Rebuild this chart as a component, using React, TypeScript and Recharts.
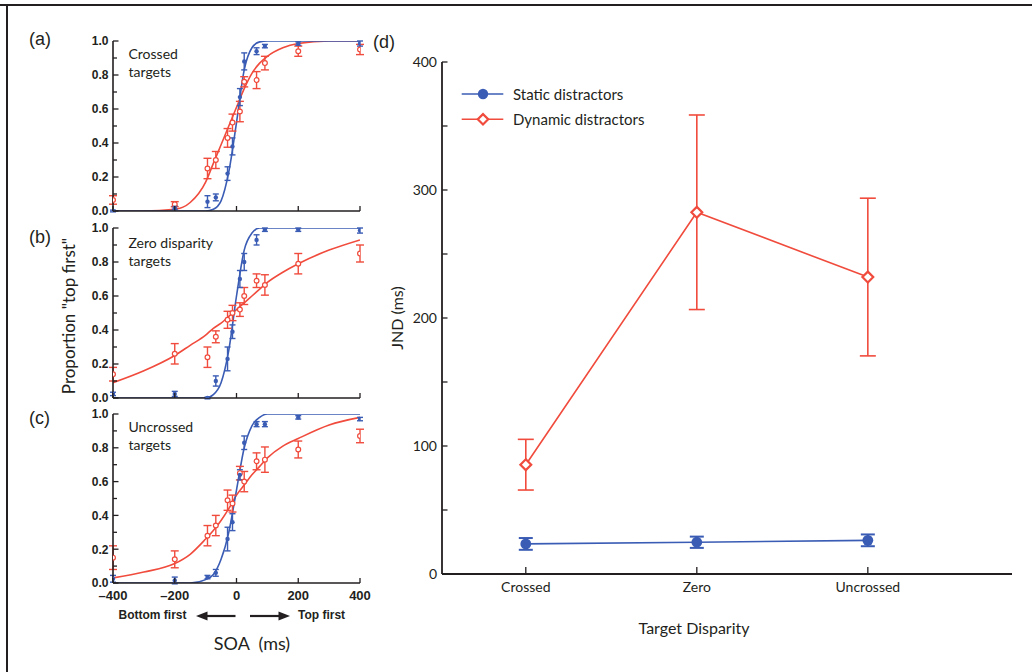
import React from 'react'
import { ComposedChart, Line, Scatter, XAxis, YAxis, ErrorBar } from 'recharts'

const INK = '#231f20'
const BLUE = '#3a5cb4'
const RED = '#f04b3c'

// SOA (ms) of the measured points, same for panels a-c
const soaPoints = [-400, -200, -94, -67, -29, -13, 11, 25, 65, 92, 200, 400]
// SOA (ms) where the fitted curves are read
const soaFit = [-400, -300, -200, -150, -100, -75, -50, -25, 0, 25, 50, 75, 100, 150, 200, 300, 400]

// (a) crossed targets
const crossedStatic = [0.0, 0.02, 0.055, 0.08, 0.22, 0.38, 0.67, 0.88, 0.94, 0.97, 0.985, 0.985]
const crossedStaticErr = [0.005, 0.01, 0.035, 0.02, 0.04, 0.05, 0.05, 0.05, 0.02, 0.01, 0.01, 0.015]
const crossedDynamic = [0.065, 0.04, 0.25, 0.3, 0.43, 0.52, 0.585, 0.76, 0.77, 0.87, 0.94, 0.95]
const crossedDynamicErr = [0.025, 0.015, 0.06, 0.05, 0.055, 0.05, 0.06, 0.03, 0.05, 0.04, 0.03, 0.03]
const crossedStaticFit = [0, 0, 0, 0, 0, 0.01, 0.06, 0.23, 0.52, 0.83, 0.96, 0.995, 1, 1, 1, 1, 1]
const crossedDynamicFit = [0, 0, 0.01, 0.05, 0.17, 0.28, 0.39, 0.5, 0.61, 0.72, 0.81, 0.87, 0.91, 0.96, 0.985, 1, 1]

// (b) zero disparity targets
const zeroStatic = [0.024, 0.024, 0.0, 0.1, 0.23, 0.39, 0.7, 0.8, 0.93, 0.99, 0.99, 0.985]
const zeroStaticErr = [0.01, 0.015, 0.005, 0.03, 0.07, 0.04, 0.05, 0.05, 0.03, 0.01, 0.01, 0.015]
const zeroDynamic = [0.14, 0.26, 0.24, 0.36, 0.46, 0.5, 0.52, 0.6, 0.69, 0.665, 0.79, 0.85]
const zeroDynamicErr = [0.04, 0.06, 0.06, 0.035, 0.05, 0.045, 0.04, 0.05, 0.04, 0.06, 0.06, 0.05]
const zeroStaticFit = [0, 0, 0, 0, 0, 0.02, 0.09, 0.28, 0.6, 0.87, 0.97, 1, 1, 1, 1, 1, 1]
const zeroDynamicFit = [0.09, 0.16, 0.25, 0.31, 0.37, 0.41, 0.44, 0.48, 0.52, 0.56, 0.6, 0.64, 0.68, 0.74, 0.79, 0.87, 0.93]

// (c) uncrossed targets
const uncrossedStatic = [0.025, 0.015, 0.035, 0.06, 0.26, 0.36, 0.64, 0.83, 0.94, 0.94, 0.98, 0.97]
const uncrossedStaticErr = [0.02, 0.02, 0.01, 0.02, 0.07, 0.05, 0.03, 0.04, 0.015, 0.015, 0.01, 0.01]
const uncrossedDynamic = [0.15, 0.14, 0.28, 0.34, 0.49, 0.47, 0.65, 0.6, 0.72, 0.73, 0.79, 0.87]
const uncrossedDynamicErr = [0.07, 0.05, 0.06, 0.06, 0.06, 0.05, 0.04, 0.06, 0.05, 0.075, 0.05, 0.04]
const uncrossedStaticFit = [0, 0, 0, 0, 0.02, 0.05, 0.14, 0.3, 0.55, 0.8, 0.93, 0.98, 1, 1, 1, 1, 1]
const uncrossedDynamicFit = [0.03, 0.065, 0.115, 0.17, 0.26, 0.31, 0.37, 0.44, 0.52, 0.58, 0.64, 0.69, 0.74, 0.81, 0.855, 0.935, 0.98]

const soaTicks = [-400, -200, 0, 200, 400]
const soaTopTicks = [-200, 0, 200]
const propTicks = [0, 0.1, 0.2, 0.3, 0.4, 0.5, 0.6, 0.7, 0.8, 0.9, 1]

// (d) JND per target disparity
const disparities = ['Crossed', 'Zero', 'Uncrossed']
const jndStatic = [23.5, 24.8, 26.3]
const jndStaticErr = [4.6, 4.4, 4.6]
const jndDynamic = [85.4, 282.6, 232]
const jndDynamicErr = [19.8, 76, 61.6]
const jndTicks = [0, 50, 100, 150, 200, 250, 300, 350, 400]
const jndTopTicks = [1.08, 2.18, 3.29]

const pts = (ys: number[], errs: number[]) => soaPoints.map((soa, i) => ({ soa, p: ys[i], e: errs[i] }))
const fit = (ys: number[]) => soaFit.map((soa, i) => ({ soa, p: ys[i] }))

const panels = [
  {
    id: 'a', top: 33, plotH: 170, title: ['Crossed', 'targets'], titleTop: 45, letterTop: 30,
    sPts: pts(crossedStatic, crossedStaticErr), dPts: pts(crossedDynamic, crossedDynamicErr),
    sFit: fit(crossedStaticFit), dFit: fit(crossedDynamicFit),
  },
  {
    id: 'b', top: 220, plotH: 170, title: ['Zero disparity', 'targets'], titleTop: 234, letterTop: 228,
    sPts: pts(zeroStatic, zeroStaticErr), dPts: pts(zeroDynamic, zeroDynamicErr),
    sFit: fit(zeroStaticFit), dFit: fit(zeroDynamicFit),
  },
  {
    id: 'c', top: 406, plotH: 169, title: ['Uncrossed', 'targets'], titleTop: 418, letterTop: 409,
    sPts: pts(uncrossedStatic, uncrossedStaticErr), dPts: pts(uncrossedDynamic, uncrossedDynamicErr),
    sFit: fit(uncrossedStaticFit), dFit: fit(uncrossedDynamicFit),
  },
]

const dTable = disparities.map((name, i) => ({
  x: i + 1, name,
  stat: jndStatic[i], statErr: jndStaticErr[i],
  dyn: jndDynamic[i], dynErr: jndDynamicErr[i],
}))

const smallFont = { fontFamily: '"Liberation Sans", Arial, sans-serif', fontWeight: 700, fill: INK }
const bigFont = { fontFamily: 'Lato, sans-serif', fontSize: 14, fill: INK }

// inward tick marks (the reference draws them inside the frame)
const leftTick = (gap: number, len: (v: number) => number, label: (v: number) => string, style: any) => (props: any) => {
  const { x, y, payload } = props
  const v = payload.value
  const ax = x + gap
  const t = label(v)
  return (
    <g>
      <line x1={ax} y1={y} x2={ax + len(v)} y2={y} stroke={INK} strokeWidth={1.3} />
      {t && <text x={x} y={y} dy="0.36em" textAnchor="end" style={style}>{t}</text>}
    </g>
  )
}
const rightTick = (gap: number, len: number) => (props: any) => {
  const { x, y } = props
  const ax = x - gap
  return <line x1={ax} y1={y} x2={ax - len} y2={y} stroke={INK} strokeWidth={1.3} />
}
const topTick = (gap: number, len: number) => (props: any) => {
  const { x, y } = props
  const ay = y + gap
  return <line x1={x} y1={ay} x2={x} y2={ay + len} stroke={INK} strokeWidth={1.3} />
}
const bottomTick = (gap: number, len: number, label: (v: number) => string, base: number, style: any) => (props: any) => {
  const { x, y, payload } = props
  const ay = y - gap
  const t = label(payload.value)
  return (
    <g>
      <line x1={x} y1={ay} x2={x} y2={ay - len} stroke={INK} strokeWidth={1.3} />
      {t && <text x={x} y={ay + base} textAnchor="middle" style={style}>{t}</text>}
    </g>
  )
}

const fmtProp = (v: number) => (Math.round(v * 10) % 2 === 0 ? v.toFixed(1) : '')
const fmtSoa = (v: number) => (v < 0 ? '\u2013' + Math.abs(v) : String(v))

function SmallPanel({ panel, last }: { panel: typeof panels[number]; last: boolean }) {
  const h = 8 + panel.plotH + 22 + 2
  return (
    <div style={{ position: 'absolute', left: 63, top: panel.top, width: 320, height: h }}>
      <ComposedChart width={320} height={h} margin={{ top: 8, right: 23, bottom: 2, left: 0 }}>
        <XAxis type="number" dataKey="soa" domain={[-400, 400]} allowDataOverflow ticks={soaTicks} interval={0}
          height={22} tickSize={0} tickMargin={2} tickLine={false} axisLine={{ stroke: INK, strokeWidth: 1.6 }}
          tick={bottomTick(2, 5, (v) => (last ? fmtSoa(v) : ''), 17, { ...smallFont, fontSize: 13 })} />
        <XAxis xAxisId="top" orientation="top" type="number" dataKey="soa" domain={[-400, 400]} allowDataOverflow
          ticks={soaTopTicks} interval={0} height={0} tickSize={0} tickMargin={0} tickLine={false}
          axisLine={{ stroke: INK, strokeWidth: 1.6 }} tick={topTick(0, 5)} />
        <YAxis type="number" domain={[0, 1]} allowDataOverflow ticks={propTicks} interval={0} width={50}
          tickSize={0} tickMargin={4.5} tickLine={false} axisLine={{ stroke: INK, strokeWidth: 1.6 }}
          tick={leftTick(4.5, (v) => (Math.round(v * 10) % 2 === 0 ? 5.5 : 4), fmtProp, { ...smallFont, fontSize: 12 })} />
        <YAxis yAxisId="right" orientation="right" type="number" domain={[0, 1]} allowDataOverflow ticks={propTicks}
          interval={0} width={0} tickSize={0} tickMargin={0} tickLine={false}
          axisLine={{ stroke: INK, strokeWidth: 1.6 }} tick={rightTick(0, 5)} />
        <Line data={panel.dFit} dataKey="p" type="monotone" stroke={RED} strokeWidth={1.6} dot={false}
          isAnimationActive={false} />
        <Line data={panel.sFit} dataKey="p" type="monotone" stroke={BLUE} strokeWidth={1.6} dot={false}
          isAnimationActive={false} />
        <Scatter data={panel.dPts} dataKey="p" isAnimationActive={false}
          shape={(p: any) => <circle cx={p.cx} cy={p.cy} r={2.4} fill="#fff" stroke={RED} strokeWidth={1.2} />}>
          <ErrorBar dataKey="e" direction="y" width={4} stroke={RED} strokeWidth={1.4} />
        </Scatter>
        <Scatter data={panel.sPts} dataKey="p" isAnimationActive={false}
          shape={(p: any) => <circle cx={p.cx} cy={p.cy} r={2.2} fill={BLUE} />}>
          <ErrorBar dataKey="e" direction="y" width={3} stroke={BLUE} strokeWidth={1.4} />
        </Scatter>
      </ComposedChart>
    </div>
  )
}

const diamond = (cx: number, cy: number, r: number) => `M${cx},${cy - r}L${cx + r},${cy}L${cx},${cy + r}L${cx - r},${cy}Z`

function PanelD() {
  return (
    <div style={{ position: 'absolute', left: 392, top: 52, width: 630, height: 554 }}>
      <ComposedChart width={630} height={554} data={dTable} margin={{ top: 10, right: 10, bottom: 2, left: 0 }}>
        <XAxis type="number" dataKey="x" domain={[0.51, 3.843]} allowDataOverflow ticks={[1, 2, 3]} interval={0}
          height={30} tickSize={0} tickMargin={0} tickLine={false} axisLine={{ stroke: INK, strokeWidth: 1.8 }}
          tick={bottomTick(0, 7, (v) => disparities[v - 1] ?? '', 17.6, bigFont)} />
        <XAxis xAxisId="top" orientation="top" type="number" dataKey="x" domain={[0.51, 3.843]} allowDataOverflow
          ticks={jndTopTicks} interval={0} height={0} tickSize={0} tickMargin={0} tickLine={false}
          axisLine={{ stroke: INK, strokeWidth: 1.8 }} tick={topTick(0, 6.5)} />
        <YAxis type="number" domain={[0, 400]} allowDataOverflow ticks={jndTicks} interval={0} width={50}
          tickSize={0} tickMargin={5} tickLine={false} axisLine={{ stroke: INK, strokeWidth: 1.8 }}
          tick={leftTick(5, () => 5.5, (v) => (v % 100 === 0 ? String(v) : ''), bigFont)} />
        <YAxis yAxisId="right" orientation="right" type="number" domain={[0, 400]} allowDataOverflow ticks={jndTicks}
          interval={0} width={0} tickSize={0} tickMargin={0} tickLine={false}
          axisLine={{ stroke: INK, strokeWidth: 1.8 }} tick={rightTick(0, 6.5)} />
        <Line dataKey="dyn" stroke={RED} strokeWidth={1.6} isAnimationActive={false}
          dot={(p: any) => <path key={`dd${p.index}`} d={diamond(p.cx, p.cy, 5.4)} fill="#fff" stroke={RED} strokeWidth={2.2} />}>
          <ErrorBar dataKey="dynErr" direction="y" width={8} stroke={RED} strokeWidth={1.6} />
        </Line>
        <Line dataKey="stat" stroke={BLUE} strokeWidth={1.6} isAnimationActive={false}
          dot={(p: any) => <circle key={`sd${p.index}`} cx={p.cx} cy={p.cy} r={5.4} fill={BLUE} />}>
          <ErrorBar dataKey="statErr" direction="y" width={7} stroke={BLUE} strokeWidth={2} />
        </Line>
      </ComposedChart>
    </div>
  )
}

const abs = (left: number, top: number, extra: React.CSSProperties = {}): React.CSSProperties => ({
  position: 'absolute', left, top, whiteSpace: 'pre', lineHeight: 1, color: INK, ...extra,
})

export default function App() {
  const sans = '"Liberation Sans", Arial, sans-serif'
  const lato = 'Lato, sans-serif'
  return (
    <div style={{ position: 'absolute', left: 0, top: 0, width: 1032, height: 672, background: '#fff', overflow: 'hidden' }}>
      <div style={{ position: 'absolute', left: 0, top: 4, width: 1032, height: 2, background: INK }} />
      <div style={{ position: 'absolute', left: 6, top: 4, width: 2, height: 668, background: INK }} />

      {panels.map((p, i) => (
        <React.Fragment key={p.id}>
          <SmallPanel panel={p} last={i === panels.length - 1} />
          <div style={abs(29, p.letterTop, { fontFamily: sans, fontSize: 18 })}>({p.id})</div>
          <div style={abs(128.5, p.titleTop, { fontFamily: lato, fontSize: 14, lineHeight: '18px' })}>
            {p.title[0]}<br />{p.title[1]}
          </div>
        </React.Fragment>
      ))}

      <div style={abs(68, 316, { fontFamily: lato, fontSize: 17, transform: 'translate(-50%, -50%) rotate(-90deg)' })}>
        Proportion "top first"
      </div>

      <div style={abs(118.5, 609, { fontFamily: sans, fontSize: 12, fontWeight: 700 })}>Bottom first</div>
      <div style={abs(298, 609, { fontFamily: sans, fontSize: 12, fontWeight: 700 })}>Top first</div>
      <svg style={{ position: 'absolute', left: 0, top: 0 }} width={400} height={672}>
        <line x1={205} y1={616} x2={235.5} y2={616} stroke={INK} strokeWidth={2.2} />
        <polygon points="196,616 207.5,611.5 207.5,620.5" fill={INK} />
        <line x1={250} y1={616} x2={281} y2={616} stroke={INK} strokeWidth={2.2} />
        <polygon points="290,616 278.5,611.5 278.5,620.5" fill={INK} />
      </svg>
      <div style={abs(252, 643, { fontFamily: lato, fontSize: 18, transform: 'translate(-50%, -50%)' })}>SOA  (ms)</div>

      <PanelD />
      <div style={abs(373, 33, { fontFamily: sans, fontSize: 18 })}>(d)</div>
      <div style={abs(397, 318, { fontFamily: lato, fontSize: 16, transform: 'translate(-50%, -50%) rotate(-90deg)' })}>
        JND (ms)
      </div>
      <div style={abs(694, 628, { fontFamily: lato, fontSize: 16, transform: 'translate(-50%, -50%)' })}>Target Disparity</div>

      <svg style={{ position: 'absolute', left: 455, top: 82 }} width={55} height={50}>
        <line x1={6.7} y1={12} x2={48.3} y2={12} stroke={BLUE} strokeWidth={1.4} />
        <circle cx={28} cy={12} r={5.2} fill={BLUE} />
        <line x1={6.7} y1={37.3} x2={48.3} y2={37.3} stroke={RED} strokeWidth={1.4} />
        <path d={diamond(28, 37.3, 5.2)} fill="#fff" stroke={RED} strokeWidth={2.2} />
      </svg>
      <div style={abs(513, 94, { fontFamily: lato, fontSize: 15, transform: 'translateY(-50%)' })}>Static distractors</div>
      <div style={abs(513, 119.3, { fontFamily: lato, fontSize: 15, transform: 'translateY(-50%)' })}>Dynamic distractors</div>
    </div>
  )
}
